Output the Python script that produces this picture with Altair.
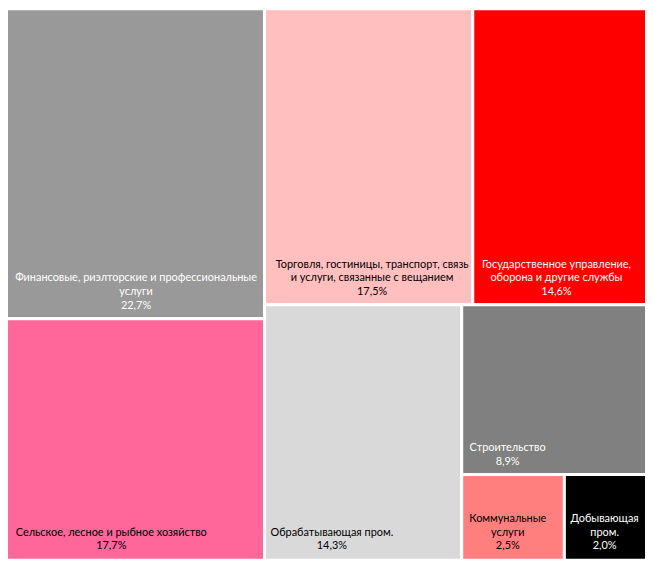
import altair as alt
import pandas as pd

categories = [
    "Финансовые, риэлторские и профессиональные услуги",
    "Сельское, лесное и рыбное хозяйство",
    "Торговля, гостиницы, транспорт, связь и услуги, связанные с вещанием",
    "Государственное управление, оборона и другие службы",
    "Обрабатывающая пром.",
    "Строительство",
    "Коммунальные услуги",
    "Добывающая пром.",
]
shares = [22.7, 17.7, 17.5, 14.6, 14.3, 8.9, 2.5, 2.0]
label_lines = [
    ["Финансовые, риэлторские и профессиональные", "услуги"],
    ["Сельское, лесное и рыбное хозяйство"],
    ["Торговля, гостиницы, транспорт, связь", "и услуги, связанные с вещанием"],
    ["Государственное управление,", "оборона и другие службы"],
    ["Обрабатывающая пром."],
    ["Строительство"],
    ["Коммунальные", "услуги"],
    ["Добывающая", "пром."],
]
tile_colors = ["#999999", "#FF6699", "#FFBFBF", "#FF0000", "#D9D9D9", "#808080", "#FF7F7F", "#000000"]
text_colors = ["white", "black", "black", "white", "black", "white", "black", "white"]

W, H = 642, 553
GAP = 3
PAD = 7.5
UNIT = 5.9
LH = 14
FS = 11


def text_width(s):
    w = 0.0
    for ch in s:
        if ch in " ,.;:!'":
            w += 0.45
        elif ch in "%":
            w += 1.3
        elif ch in "жфшщюмыЖФШЩЮМЫ":
            w += 1.35
        elif ch.isdigit():
            w += 0.95
        elif ch.isupper():
            w += 1.15
        else:
            w += 1.0
    return w * UNIT


def worst(row, side):
    s = sum(row)
    return max(max(side * side * r / (s * s), s * s / (side * side * r)) for r in row)


def squarify(areas, x, y, w, h):
    rects = []
    areas = list(areas)
    while areas:
        side = min(w, h)
        row = [areas[0]]
        i = 1
        while i < len(areas) and worst(row + [areas[i]], side) <= worst(row, side):
            row.append(areas[i])
            i += 1
        s = sum(row)
        if w >= h:
            cw = s / h
            yy = y
            for a in row:
                rh = a / cw
                rects.append((x, yy, x + cw, yy + rh))
                yy += rh
            x += cw
            w -= cw
        else:
            rh = s / w
            xx = x
            for a in row:
                rw = a / rh
                rects.append((xx, y, xx + rw, y + rh))
                xx += rw
            y += rh
            h -= rh
        areas = areas[i:]
    return rects


# layout in a box slightly larger than the plot, so the outer half of the
# white tile borders falls outside the visible area
LW, LH_BOX = W + GAP, H + GAP
total = sum(shares)
areas = [v / total * LW * LH_BOX for v in shares]
rects = squarify(areas, 0, 0, LW, LH_BOX)

rows = []
for cat, v, lines, tc, r in zip(categories, shares, label_lines, text_colors, rects):
    pct = f"{v:.1f}".replace(".", ",") + "%"
    all_lines = lines + [pct]
    maxw = max(text_width(s) for s in all_lines)
    n = len(all_lines)
    bottom = min(r[3], LH_BOX - GAP / 2)
    rows.append(dict(
        cat=cat, x0=r[0], y0=r[1], x1=r[2], y1=r[3],
        label="\n".join(all_lines), tcolor=tc,
        cx=max(r[0], GAP / 2) + PAD + maxw / 2,
        ty=bottom - 18.5 - (n - 1) * LH,
    ))
df = pd.DataFrame(rows)

xs = alt.Scale(domain=[GAP / 2, LW - GAP / 2], nice=False, zero=False)
ys = alt.Scale(domain=[GAP / 2, LH_BOX - GAP / 2], nice=False, zero=False, reverse=True)

tiles = alt.Chart(df).mark_rect(stroke="white", strokeWidth=GAP).encode(
    x=alt.X("x0:Q", scale=xs, axis=None),
    x2="x1:Q",
    y=alt.Y("y0:Q", scale=ys, axis=None),
    y2="y1:Q",
    color=alt.Color("cat:N", scale=alt.Scale(domain=categories, range=tile_colors), legend=None),
)

texts = alt.Chart(df).mark_text(
    align="center", baseline="top", lineBreak="\n", font="Lato",
    fontSize=FS, lineHeight=LH,
).encode(
    x=alt.X("cx:Q", scale=xs, axis=None),
    y=alt.Y("ty:Q", scale=ys, axis=None),
    text="label:N",
    color=alt.Color("tcolor:N", scale=None),
)

chart = (tiles + texts).properties(
    width=W, height=H, padding=0, autosize="none"
).configure_view(strokeWidth=0)

chart.save("out.html", embed_options={"renderer": "svg", "actions": False})
